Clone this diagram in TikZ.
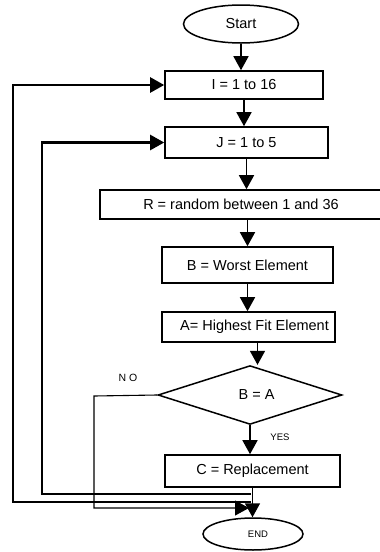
\documentclass[tikz,border=0pt]{standalone}
\usepackage{fontspec}
\setmainfont{Liberation Sans}
\usetikzlibrary{shapes.geometric,arrows.meta}
\begin{document}
\begin{tikzpicture}[x=1pt,y=-1pt,
  box/.style={draw,line width=1.6pt,rectangle,inner sep=0pt,font=\fontsize{14.5}{16}\selectfont},
  term/.style={draw,line width=1.5pt,ellipse,inner sep=0pt},
  dec/.style={draw,line width=1.5pt,diamond,inner sep=0pt,minimum width=184pt,minimum height=56pt,font=\fontsize{14.5}{16}\selectfont},
  arr/.style={line width=1.6pt,-{Triangle[width=15pt,length=14pt]}},
  loopline/.style={line width=2.4pt,-{Triangle[width=15pt,length=14pt]}},
  noline/.style={line width=1.1pt,-{Triangle[width=15pt,length=14pt]}},
  small/.style={font=\fontsize{9.5}{11}\selectfont}]
\useasboundingbox (0,0) rectangle (380,552);
\node[term,minimum width=115pt,minimum height=38pt,font=\fontsize{14.5}{16}\selectfont] (S) at (241,24) {Start};
\node[box,minimum width=158pt,minimum height=28pt] (I) at (244,85) {I = 1 to 16\hspace{8pt}};
\node[box,minimum width=163pt,minimum height=31pt] (J) at (246.5,142.5) {J = 1 to 5\hspace{10pt}};
\node[box,minimum width=282pt,minimum height=29pt] (R) at (241,204.5) {R = random between 1 and 36\hspace{18pt}};
\node[box,minimum width=171pt,minimum height=36pt] (B) at (247.5,265) {B = Worst Element\hspace{6pt}};
\node[box,minimum width=173pt,minimum height=30pt] (A) at (248.5,327) {\hspace*{12pt}A= Highest Fit Element};
\node[dec] (D) at (250,395) {\hspace*{13pt}B = A};
\node[box,minimum width=175pt,minimum height=32pt] (C) at (252.5,471) {C = Replacement};
\node[term,minimum width=100pt,minimum height=32pt,small] (E) at (253,534) {\hspace*{10pt}END};
\node[font=\fontsize{10.5}{11}\selectfont] (NO) at (128,378) {N O};
\node[font=\fontsize{9.5}{11}\selectfont] (YES) at (280,437) {YES};
\coordinate (Aout) at ([xshift=9pt]A.south);
\coordinate (oj) at (251,502);
\coordinate (ij) at (251,494);
\coordinate (nj) at (249,508);
\draw[arr] (S.south) -- (S.south |- I.north);
\draw[arr] (I.south) -- (I.south |- J.north);
\draw[arr] (J.south) -- (J.south |- R.north);
\draw[arr] (B.north |- R.south) -- (B.north);
\draw[arr] (B.south) -- (B.south |- A.north);
\draw[arr] (Aout) -- (Aout |- D.north);
\draw[arr] (D.south) -- (D.south |- C.north);
\draw[arr] (C.south) -- (C.south |- E.north);
\draw[loopline] (oj) -- (13,502) |- (I.west);
\draw[loopline] (ij) -- (42,494) |- (J.west);
\draw[noline] (D.west) -- (94,396) |- (nj);
\end{tikzpicture}
\end{document}
